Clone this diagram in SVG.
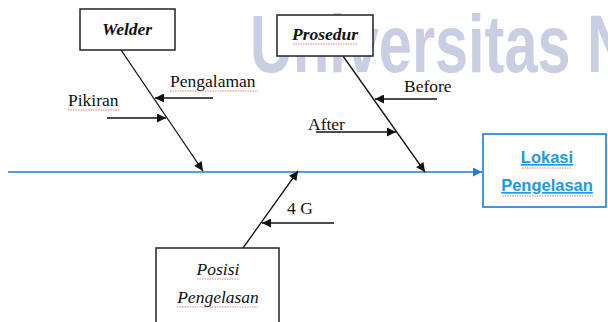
<svg xmlns="http://www.w3.org/2000/svg" width="608" height="322" viewBox="0 0 608 322">
  <style>
    .box { fill: #ffffff; stroke: #222222; stroke-width: 1.5; }
    .head { font-family: "Liberation Serif", serif; font-style: italic; font-size: 17.5px; fill: #111111; text-anchor: middle; }
    .lbl { font-family: "Liberation Serif", serif; font-size: 17.5px; fill: #111111; }
    .bone { stroke: #111111; stroke-width: 1.3; fill: none; marker-end: url(#ah); }
    .spell { stroke: #e04848; stroke-width: 0.9; stroke-dasharray: 1.5 1; fill: none; opacity: 0.8; }
  </style>
  <defs>
    <marker id="ah" viewBox="0 0 10 10" refX="10" refY="5" markerWidth="11" markerHeight="9" markerUnits="userSpaceOnUse" orient="auto">
      <path d="M0,0 L10,5 L0,10 Z" fill="#111111"/>
    </marker>
    <marker id="ahb" viewBox="0 0 10 10" refX="10" refY="5" markerWidth="10" markerHeight="9" markerUnits="userSpaceOnUse" orient="auto">
      <path d="M0,0 L10,5 L0,10 Z" fill="#1f7ad0"/>
    </marker>
  </defs>
  <rect width="608" height="322" fill="#ffffff"/>

  <text id="watermark" x="250" y="72" font-family="Liberation Sans, sans-serif" font-weight="bold" font-size="82" fill="#c9cee2" textLength="380" lengthAdjust="spacingAndGlyphs">Universitas N</text>

  <g id="connectors">
    <line x1="8" y1="172" x2="482" y2="172" stroke="#1f7ad0" stroke-width="1.6" marker-end="url(#ahb)"/>
    <line class="bone" x1="121" y1="50" x2="203" y2="171"/>
    <line class="bone" x1="343" y1="56" x2="425" y2="172"/>
    <line class="bone" x1="243" y1="248" x2="298" y2="171"/>
    <line class="bone" x1="213" y1="98" x2="155" y2="98"/>
    <line class="bone" x1="107" y1="118" x2="166" y2="118"/>
    <line class="bone" x1="437" y1="99" x2="375" y2="99"/>
    <line class="bone" x1="316" y1="132" x2="396" y2="132"/>
    <line class="bone" x1="334" y1="223" x2="262" y2="223"/>
  </g>

  <g id="welder">
    <rect class="box" x="80" y="9" width="95" height="41"/>
    <text class="head" x="127" y="35" font-weight="bold">Welder</text>
  </g>
  <g id="prosedur">
    <rect class="box" x="277" y="15" width="96" height="41"/>
    <text class="head" x="325" y="40" font-weight="bold">Prosedur</text>
    <path class="spell" d="M293,44 L357,44"/>
  </g>
  <g id="posisi">
    <rect class="box" x="156" y="248" width="123" height="80"/>
    <text class="head" x="218" y="275">Posisi</text>
    <text class="head" x="218" y="303">Pengelasan</text>
    <path class="spell" d="M197,279 L240,279 M177,307 L258,307"/>
  </g>
  <g id="lokasi">
    <rect x="483" y="134" width="123" height="73" fill="#ffffff" stroke="#1f7ad0" stroke-width="1.6"/>
    <text x="547" y="163" font-family="Liberation Sans, sans-serif" font-weight="bold" font-size="16.5" fill="#1a9ae6" text-anchor="middle" text-decoration="underline">Lokasi</text>
    <text x="547" y="191" font-family="Liberation Sans, sans-serif" font-weight="bold" font-size="16.5" fill="#1a9ae6" text-anchor="middle" text-decoration="underline">Pengelasan</text>
    <path class="spell" d="M522,168 L572,168 M502,196 L593,196"/>
  </g>

  <g id="labels">
    <text class="lbl" x="170" y="87">Pengalaman</text>
    <path class="spell" d="M170,91 L258,91"/>
    <text class="lbl" x="68" y="106">Pikiran</text>
    <path class="spell" d="M68,110 L119,110"/>
    <text class="lbl" x="404" y="92">Before</text>
    <text class="lbl" x="308" y="130">After</text>
    <text class="lbl" x="287" y="214">4 G</text>
  </g>
</svg>
